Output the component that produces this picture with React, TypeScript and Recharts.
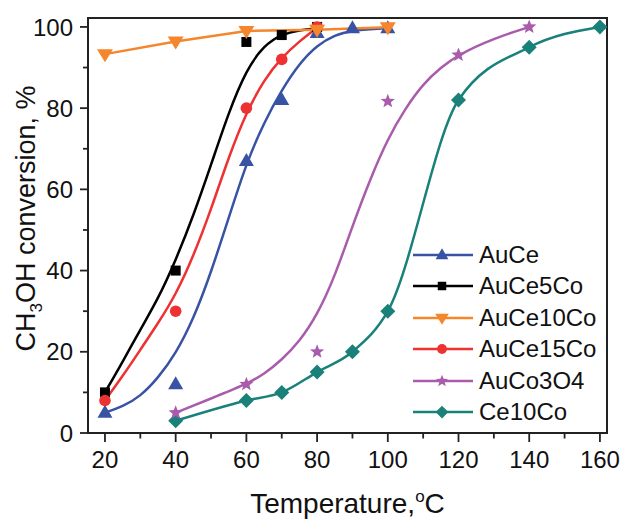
import React from 'react';
import { ComposedChart, Line, Scatter, XAxis, YAxis, ReferenceArea, Legend } from 'recharts';

const font = '"Liberation Sans", Arial, Helvetica, sans-serif';

// measured points
const auceT = [20, 40, 60, 70, 80, 90, 100];
const auceV = [5, 12, 67, 82, 98.5, 99.7, 99.7];
const auce5T = [20, 40, 60, 70, 80];
const auce5V = [10, 40, 96.3, 98, 100];
const auce10T = [20, 40, 60, 80, 100];
const auce10V = [93.3, 96.4, 99, 99.3, 99.9];
const auce15T = [20, 40, 60, 70, 80];
const auce15V = [8, 30, 80, 92, 100];
const auco3T = [40, 60, 80, 100, 120, 140];
const auco3V = [5, 12, 20, 81.7, 93.1, 100];
const ce10T = [40, 60, 70, 80, 90, 100, 120, 140, 160];
const ce10V = [3, 8, 10, 15, 20, 30, 82, 95, 100];

// fitted curves
const auceFitT = [20, 25, 30, 35, 40, 45, 50, 55, 60, 65, 70, 75, 80, 85, 90, 100];
const auceFitV = [5, 6.5, 9, 13.5, 19.5, 28, 39.5, 53, 66.5, 76.5, 84.5, 91, 95.5, 98, 99.2, 99.7];
const auce5FitT = [20, 25, 30, 35, 40, 45, 50, 55, 60, 65, 70, 75, 80];
const auce5FitV = [10, 17.5, 25.5, 33, 42.5, 53.5, 66, 79, 89.5, 95.5, 98.2, 99.2, 99.6];
const auce15FitT = [20, 25, 30, 35, 40, 45, 50, 55, 60, 65, 70, 75, 80];
const auce15FitV = [8, 14, 20.5, 27, 34, 43.5, 55, 68, 79, 87, 92.5, 96.5, 99.8];
const auco3FitT = [40, 50, 60, 65, 70, 75, 80, 85, 90, 95, 100, 105, 110, 115, 120, 130, 140];
const auco3FitV = [5, 8.5, 12, 14.5, 18, 22.5, 29, 38.5, 51, 62.5, 72.5, 80, 86, 90, 93.2, 97.2, 100];

const xMajor = [20, 40, 60, 80, 100, 120, 140, 160];
const xMinor = [30, 50, 70, 90, 110, 130, 150];
const yMajor = [0, 20, 40, 60, 80, 100];
const yMinor = [10, 30, 50, 70, 90];

const zip = (xs: number[], ys: number[]) => xs.map((x, i) => ({ x, y: ys[i] }));

type Kind = 'up' | 'square' | 'down' | 'circle' | 'star' | 'diamond';

const series: { name: string; color: string; kind: Kind; pts: any[]; curve: any[]; type: 'basis' | 'monotone' | 'linear' }[] = [
  { name: 'AuCe', color: '#3953a4', kind: 'up', pts: zip(auceT, auceV), curve: zip(auceFitT, auceFitV), type: 'basis' },
  { name: 'AuCe5Co', color: '#000000', kind: 'square', pts: zip(auce5T, auce5V), curve: zip(auce5FitT, auce5FitV), type: 'basis' },
  { name: 'AuCe10Co', color: '#f5862c', kind: 'down', pts: zip(auce10T, auce10V), curve: zip(auce10T, auce10V), type: 'linear' },
  { name: 'AuCe15Co', color: '#ee3131', kind: 'circle', pts: zip(auce15T, auce15V), curve: zip(auce15FitT, auce15FitV), type: 'basis' },
  { name: 'AuCo3O4', color: '#a95cab', kind: 'star', pts: zip(auco3T, auco3V), curve: zip(auco3FitT, auco3FitV), type: 'basis' },
  { name: 'Ce10Co', color: '#1a817a', kind: 'diamond', pts: zip(ce10T, ce10V), curve: zip(ce10T, ce10V), type: 'monotone' },
];

// draw order: orange last so it sits on top
const drawOrder = [5, 4, 0, 1, 3, 2];

function Marker({ cx, cy, kind, color, s = 1 }: { cx: number; cy: number; kind: Kind; color: string; s?: number }) {
  switch (kind) {
    case 'up':
      return <polygon points={`${cx},${cy - 8 * s} ${cx - 7.5 * s},${cy + 5 * s} ${cx + 7.5 * s},${cy + 5 * s}`} fill={color} />;
    case 'down':
      return <polygon points={`${cx - 8 * s},${cy - 5 * s} ${cx + 8 * s},${cy - 5 * s} ${cx},${cy + 8 * s}`} fill={color} />;
    case 'square':
      return <rect x={cx - 5 * s} y={cy - 5 * s} width={10 * s} height={10 * s} fill={color} />;
    case 'circle':
      return <circle cx={cx} cy={cy} r={5.8 * s} fill={color} />;
    case 'diamond':
      return <polygon points={`${cx},${cy - 7.5 * s} ${cx + 7.5 * s},${cy} ${cx},${cy + 7.5 * s} ${cx - 7.5 * s},${cy}`} fill={color} />;
    case 'star': {
      const p: string[] = [];
      for (let i = 0; i < 10; i++) {
        const r = (i % 2 === 0 ? 7.5 : 3.2) * s;
        const a = -Math.PI / 2 + (i * Math.PI) / 5;
        p.push(`${cx + r * Math.cos(a)},${cy + r * Math.sin(a)}`);
      }
      return <polygon points={p.join(' ')} fill={color} />;
    }
  }
  return null;
}

const XTick = (props: any) => {
  const { x, y, payload } = props;
  const major = xMajor.includes(payload.value);
  return (
    <g>
      <line x1={x} x2={x} y1={y} y2={y + (major ? 9 : 5.5)} stroke="#222" strokeWidth={1.8} />
      {major && (
        <text x={x} y={y + 35} textAnchor="middle" fontSize={24} fontFamily={font} fill="#111">
          {payload.value}
        </text>
      )}
    </g>
  );
};

const YTick = (props: any) => {
  const { x, y, payload } = props;
  const major = yMajor.includes(payload.value);
  return (
    <g>
      <line x1={x} x2={x - (major ? 8 : 5)} y1={y} y2={y} stroke="#222" strokeWidth={1.8} />
      {major && (
        <text x={x - 15} y={y + 8.6} textAnchor="end" fontSize={24} fontFamily={font} fill="#111">
          {payload.value}
        </text>
      )}
    </g>
  );
};

const LegendBox = () => (
  <div style={{ fontFamily: font, fontSize: 24, color: '#111' }}>
    {series.map((s) => (
      <div key={s.name} style={{ display: 'flex', alignItems: 'center', height: 31.5 }}>
        <svg width={60} height={20} style={{ display: 'block' }}>
          <line x1={0} x2={60} y1={10} y2={10} stroke={s.color} strokeWidth={2.5} />
          <Marker cx={29} cy={10} kind={s.kind} color={s.color} s={0.85} />
        </svg>
        <span style={{ marginLeft: 6, lineHeight: '24px' }}>{s.name}</span>
      </div>
    ))}
  </div>
);

export default function App() {
  return (
    <div style={{ position: 'absolute', left: 0, top: 0, background: '#fff' }}>
      <ComposedChart width={622} height={519} margin={{ top: 18, right: 15, bottom: 0, left: 0 }}>
        <XAxis
          type="number"
          dataKey="x"
          domain={[15.2, 162]}
          allowDataOverflow
          ticks={[...xMajor, ...xMinor].sort((a, b) => a - b)}
          interval={0}
          tick={<XTick />}
          tickLine={false}
          tickSize={0}
          tickMargin={0}
          height={86}
          axisLine={{ stroke: '#222', strokeWidth: 2 }}
          label={{
            content: (p: any) => {
              const vb = p.viewBox || { x: 88, y: 433, width: 519 };
              return (
                <text x={vb.x + vb.width / 2} y={513} textAnchor="middle" fontSize={28} fontFamily={font} fill="#111">
                  Temperature,
                  <tspan dy={-11} fontSize={17}>o</tspan>
                  <tspan dy={11}>C</tspan>
                </text>
              );
            },
          }}
        />
        <YAxis
          type="number"
          dataKey="y"
          domain={[0, 102.2]}
          allowDataOverflow
          ticks={[...yMajor, ...yMinor].sort((a, b) => a - b)}
          interval={0}
          tick={<YTick />}
          tickLine={false}
          tickSize={0}
          tickMargin={0}
          width={88}
          axisLine={{ stroke: '#222', strokeWidth: 2 }}
          label={{
            content: () => (
              <text transform="translate(35,218.5) rotate(-90)" textAnchor="middle" fontSize={27} fontFamily={font} fill="#111">
                CH
                <tspan dy={7} fontSize={17}>3</tspan>
                <tspan dy={-7}>OH conversion, %</tspan>
              </text>
            ),
          }}
        />
        <ReferenceArea x1={15.2} x2={162} y1={0} y2={102.2} fill="none" fillOpacity={0} stroke="#222" strokeWidth={2} />
        {drawOrder.map((i) => {
          const s = series[i];
          return (
            <Line
              key={'l' + s.name}
              data={s.curve}
              dataKey="y"
              type={s.type}
              stroke={s.color}
              strokeWidth={2.5}
              dot={false}
              activeDot={false}
              legendType="none"
              isAnimationActive={false}
            />
          );
        })}
        {drawOrder.map((i) => {
          const s = series[i];
          return (
            <Scatter
              key={'s' + s.name}
              data={s.pts}
              dataKey="y"
              fill={s.color}
              legendType="none"
              isAnimationActive={false}
              shape={(p: any) => <Marker cx={p.cx} cy={p.cy} kind={s.kind} color={s.color} />}
            />
          );
        })}
        <Legend
          layout="vertical"
          verticalAlign="middle"
          align="center"
          wrapperStyle={{ left: 413, top: 239, width: 'auto', height: 'auto' }}
          content={() => <LegendBox />}
        />
      </ComposedChart>
    </div>
  );
}
